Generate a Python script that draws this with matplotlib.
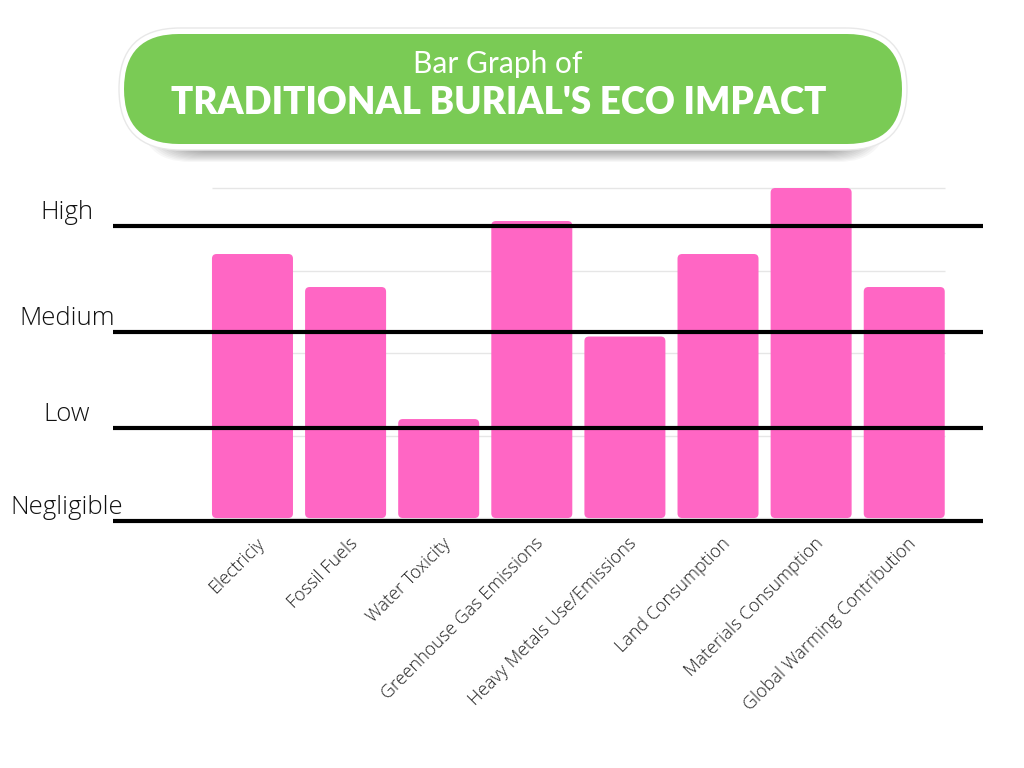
import numpy as np
import matplotlib
matplotlib.use("Agg")
import matplotlib.pyplot as plt
from matplotlib.patches import FancyBboxPatch
import matplotlib.transforms as mtransforms

# data
categories = ["Electriciy", "Fossil Fuels", "Water Toxicity", "Greenhouse Gas Emissions",
              "Heavy Metals Use/Emissions", "Land Consumption", "Materials Consumption",
              "Global Warming Contribution"]
impact = [3.2, 2.8, 1.2, 3.6, 2.2, 3.2, 4.0, 2.8]
level_names = ["Negligible", "Low", "Medium", "High"]
level_y = [-0.03, 1.09, 2.25, 3.54]
grid_y = [0, 1, 2, 3, 4]
title_top = "Bar Graph of"
title_main = "TRADITIONAL BURIAL'S ECO IMPACT"

PINK = "#FF66C4"
GREEN = "#7ACB55"

fig = plt.figure(figsize=(10.24, 7.68), dpi=100)

# background axes in pixel coords for the title pill
bg = fig.add_axes([0, 0, 1, 1])
bg.set_xlim(0, 1024)
bg.set_ylim(768, 0)
bg.axis("off")

# soft shadow under the pill
for k in range(12):
    sh = FancyBboxPatch((140 + k * 2, 50 + k * 1.0), 748 - k * 4, 112 - k * 2.0,
                        boxstyle="round,pad=0,rounding_size=50",
                        fc="#000000", ec="none", alpha=0.03, zorder=1)
    bg.add_patch(sh)
outer = FancyBboxPatch((119, 28), 788, 122, boxstyle="round,pad=0,rounding_size=61",
                       fc="white", ec="#e8e8e8", lw=1, zorder=2)
bg.add_patch(outer)
pill = FancyBboxPatch((124, 34), 778, 110, boxstyle="round,pad=0,rounding_size=55",
                      fc=GREEN, ec="none", zorder=3)
bg.add_patch(pill)
bg.text(498, 64, title_top, color="white", fontsize=21.5, family="Lato",
        ha="center", va="center", zorder=4)
bg.text(499, 103, title_main, color="white", fontsize=26.5, family="Lato", weight="heavy",
        ha="center", va="center", zorder=4)

# main chart
ax = fig.add_axes([113 / 1024, 1 - 530 / 768, 870 / 1024, 350 / 768])
ax.set_xlim(-1.498, 7.846)
ax.set_ylim(-0.145, 4.097)
ax.axis("off")

x = np.arange(len(categories))
w = 0.87
ax.hlines(grid_y, -w / 2, x[-1] + w / 2, color="#e6e6e6", lw=1, zorder=1)

bars = ax.bar(x, impact, width=w, color=PINK, zorder=2)
for b in bars:
    b.set_visible(False)
    p = FancyBboxPatch((b.get_x(), b.get_y()), b.get_width(), b.get_height(),
                       boxstyle="round,pad=0,rounding_size=0.05", mutation_aspect=1.12,
                       fc=PINK, ec="none", zorder=2)
    ax.add_patch(p)

ax.hlines(level_y, -1.498, 7.846, color="black", lw=3, zorder=3)

lbl_tr = mtransforms.blended_transform_factory(ax.transAxes, ax.transData)
for name, ly in zip(level_names, level_y):
    ax.annotate(name, (-0.053, ly), xycoords=lbl_tr, xytext=(0, 5), textcoords="offset points",
                ha="center", va="baseline", fontsize=18.5, family="Open Sans",
                weight="light", color="#111111")

for xi, name in zip(x, categories):
    ax.text(xi + 0.03, -0.2, name, rotation=45, rotation_mode="anchor", ha="right", va="top",
            fontsize=13, family="Open Sans", weight="light", color="#222222",
            clip_on=False)

fig.savefig("out.png", dpi=100)
